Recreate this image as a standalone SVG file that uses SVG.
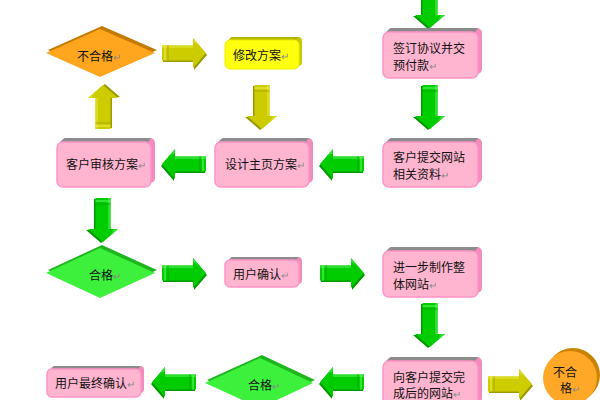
<svg xmlns="http://www.w3.org/2000/svg" xmlns:xlink="http://www.w3.org/1999/xlink" width="600" height="400" viewBox="0 0 600 400">
<style>
text{font-family:"Noto Sans CJK SC","Liberation Sans",sans-serif;font-size:12px;fill:#111}
.rt{fill:#8a8a8a;font-size:10px}
.pb{fill:#f28cbc}
.pt{fill:#8c8c8c}
.pf{fill:#ffb5cf;stroke:#ff93c6;stroke-width:1.5}
.yb{fill:#c8c800}
.yt{fill:#b5b500}
.yf{fill:#ffff10;stroke:#eeee00;stroke-width:1}
</style>
<defs>
<g id="ag">
<polygon points="1,-6 32,-6 32,-13 45,2 32,17 32,9 1,9" fill="#009a00"/>
<polygon points="0,-7.5 31,-7.5 31,-15 44,0 31,15 31,7.5 0,7.5" fill="#00cc00"/>
<polygon points="0,-7.5 31,-7.5 31,-15 38,-7 31,-11 31,-5 0,-5" fill="#2ee02e"/>
<line x1="3" y1="-7.5" x2="3" y2="7.5" stroke="#66ff66" stroke-width="1"/>
<line x1="6" y1="-7.5" x2="6" y2="7.5" stroke="#00aa00" stroke-width="1"/>
</g>
<g id="ay">
<polygon points="1,-6 32,-6 32,-13 45,2 32,17 32,9 1,9" fill="#9a9a00"/>
<polygon points="0,-7.5 31,-7.5 31,-15 44,0 31,15 31,7.5 0,7.5" fill="#cccc00"/>
<polygon points="0,-7.5 31,-7.5 31,-15 38,-7 31,-11 31,-5 0,-5" fill="#dada20"/>
<line x1="3" y1="-7.5" x2="3" y2="7.5" stroke="#eeee55" stroke-width="1"/>
<line x1="6" y1="-7.5" x2="6" y2="7.5" stroke="#aaaa00" stroke-width="1"/>
</g>
</defs>
<rect width="600" height="400" fill="#fff"/>

<g id="connectors">
<use xlink:href="#ag" transform="translate(430,-16) rotate(90)"/>
<use xlink:href="#ag" transform="translate(430,85) rotate(90)"/>
<use xlink:href="#ag" transform="translate(364,164) scale(-1,1)"/>
<use xlink:href="#ag" transform="translate(206,164) scale(-1,1)"/>
<use xlink:href="#ay" transform="translate(103,129) rotate(-90)"/>
<use xlink:href="#ay" transform="translate(162,53)"/>
<use xlink:href="#ay" transform="translate(262,85) rotate(90)"/>
<use xlink:href="#ag" transform="translate(103,198) rotate(90)"/>
<use xlink:href="#ag" transform="translate(162,273)"/>
<use xlink:href="#ag" transform="translate(320,273)"/>
<use xlink:href="#ag" transform="translate(430,303) rotate(90)"/>
<use xlink:href="#ag" transform="translate(364,382) scale(-1,1)"/>
<use xlink:href="#ag" transform="translate(196,382) scale(-1,1)"/>
<use xlink:href="#ay" transform="translate(488,384)"/>
</g>

<g id="n-sign">
<rect class="pb" x="387" y="28" width="95" height="46" rx="5"/>
<path class="pt" d="M391,28 H478 L475,32 H386 Z"/>
<rect class="pf" x="383" y="32" width="95" height="46" rx="6"/>
<text x="393" y="53">签订协议并交</text>
<text x="393" y="70">预付款<tspan class="rt">↵</tspan></text>
</g>

<g id="n-submit">
<rect class="pb" x="387" y="138" width="95" height="45" rx="5"/>
<path class="pt" d="M391,138 H478 L475,142 H386 Z"/>
<rect class="pf" x="383" y="142" width="95" height="45" rx="6"/>
<text x="393" y="162">客户提交网站</text>
<text x="393" y="179">相关资料<tspan class="rt">↵</tspan></text>
</g>

<g id="n-design">
<rect class="pb" x="219" y="138" width="94" height="45" rx="5"/>
<path class="pt" d="M223,138 H309 L306,142 H218 Z"/>
<rect class="pf" x="215" y="142" width="94" height="45" rx="6"/>
<text x="225" y="169">设计主页方案<tspan class="rt">↵</tspan></text>
</g>

<g id="n-review">
<rect class="pb" x="61" y="138" width="94" height="45" rx="5"/>
<path class="pt" d="M65,138 H151 L148,142 H60 Z"/>
<rect class="pf" x="57" y="142" width="94" height="45" rx="6"/>
<text x="66" y="169">客户审核方案<tspan class="rt">↵</tspan></text>
</g>

<g id="n-fail1">
<polygon points="102,26 157,50 102,74 48,50" fill="#c47a00"/>
<polygon points="100,29 155,53 100,77 46,53" fill="#ffa51e"/>
<text x="77" y="61">不合格<tspan class="rt">↵</tspan></text>
</g>

<g id="n-modify">
<rect class="yb" x="229" y="37" width="73" height="29" rx="4"/>
<path class="yt" d="M232,37 H299 L296,40 H229 Z"/>
<rect class="yf" x="225" y="40" width="74" height="29" rx="5"/>
<text x="233" y="60">修改方案<tspan class="rt">↵</tspan></text>
</g>

<g id="n-pass1">
<polygon points="102,245 157,270 102,295 48,270" fill="#1fb51f"/>
<polygon points="100,248 155,273 100,298 46,273" fill="#3cf03c"/>
<text x="89" y="280">合格<tspan class="rt">↵</tspan></text>
</g>

<g id="n-confirm">
<rect class="pb" x="229" y="257" width="73" height="27" rx="4"/>
<path class="pt" d="M232,257 H299 L296,260 H229 Z"/>
<rect class="pf" x="225" y="260" width="74" height="27" rx="5"/>
<text x="233" y="279">用户确认<tspan class="rt">↵</tspan></text>
</g>

<g id="n-build">
<rect class="pb" x="387" y="247" width="95" height="46" rx="5"/>
<path class="pt" d="M391,247 H478 L475,251 H386 Z"/>
<rect class="pf" x="383" y="251" width="95" height="46" rx="6"/>
<text x="393" y="272">进一步制作整</text>
<text x="393" y="289">体网站<tspan class="rt">↵</tspan></text>
</g>

<g id="n-deliver">
<rect class="pb" x="387" y="357" width="95" height="46" rx="5"/>
<path class="pt" d="M391,357 H478 L475,361 H386 Z"/>
<rect class="pf" x="383" y="361" width="95" height="46" rx="6"/>
<text x="393" y="382">向客户提交完</text>
<text x="393" y="398">成后的网站<tspan class="rt">↵</tspan></text>
</g>

<g id="n-fail2">
<circle cx="573" cy="375" r="27" fill="#c98300"/>
<circle cx="570" cy="378" r="27" fill="#ffa726"/>
<text x="553" y="377">不合</text>
<text x="560" y="393">格<tspan class="rt">↵</tspan></text>
</g>

<g id="n-pass2">
<polygon points="262,355 315,380 262,405 207,380" fill="#1fb51f"/>
<polygon points="260,358 313,383 260,408 205,383" fill="#3cf03c"/>
<text x="248" y="390">合格<tspan class="rt">↵</tspan></text>
</g>

<g id="n-final">
<rect class="pb" x="51" y="366" width="93" height="27" rx="4"/>
<path class="pt" d="M54,366 H141 L138,369 H51 Z"/>
<rect class="pf" x="47" y="369" width="94" height="28" rx="5"/>
<text x="55" y="388">用户最终确认<tspan class="rt">↵</tspan></text>
</g>
</svg>
